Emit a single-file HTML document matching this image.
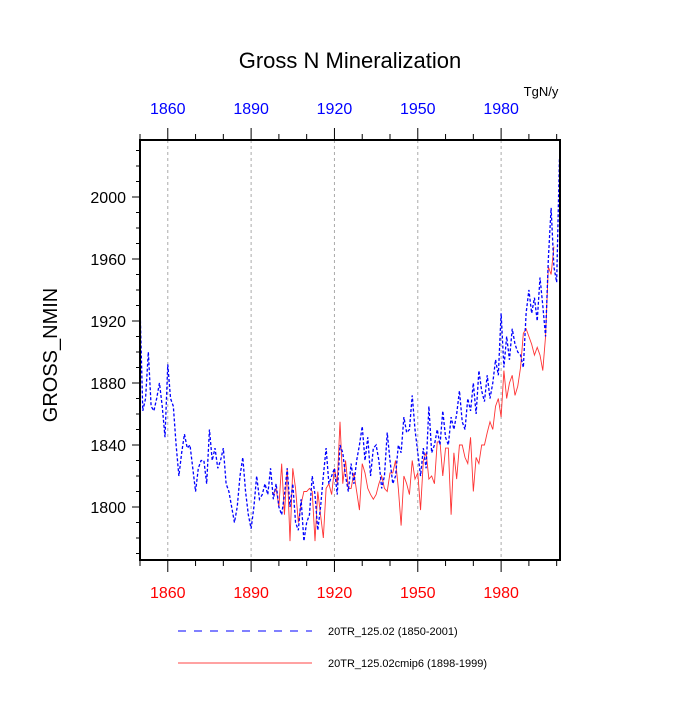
<!DOCTYPE html>
<html><head><meta charset="utf-8"><style>
body{margin:0;background:#fff;}
svg text{font-family:"Liberation Sans",sans-serif;}
</style></head><body>
<svg id="c" width="700" height="700" xmlns="http://www.w3.org/2000/svg">
<text x="350" y="68" font-size="22" text-anchor="middle">Gross N Mineralization</text>
<text x="541" y="96" font-size="13" text-anchor="middle">TgN/y</text>
<text transform="translate(57,355) rotate(-90)" font-size="20" text-anchor="middle">GROSS_NMIN</text>
<g id="grid"></g><g id="axes"></g><g id="series"></g>
<rect x="140" y="140" width="420" height="420" fill="none" stroke="#000" stroke-width="2"/>
<g>
<line x1="178" y1="631" x2="312" y2="631" stroke="#00f" stroke-dasharray="8,8"/>
<text x="328" y="635" font-size="11">20TR_125.02 (1850-2001)</text>
<line x1="178" y1="663" x2="312" y2="663" stroke="#f44"/>
<text x="328" y="667" font-size="11">20TR_125.02cmip6 (1898-1999)</text>
</g>
</svg>
<script>
const blueStart = 1850;
const blueValues = [1930,1862,1870,1900,1865,1862,1870,1880,1865,1845,1892,1870,1865,1840,1820,1835,1847,1838,1840,1825,1810,1825,1830,1830,1815,1850,1830,1838,1825,1830,1838,1815,1810,1800,1790,1800,1820,1832,1810,1795,1786,1800,1820,1805,1808,1815,1808,1825,1805,1815,1800,1795,1808,1825,1800,1815,1790,1785,1805,1778,1790,1795,1820,1808,1785,1800,1820,1838,1815,1820,1825,1808,1840,1835,1820,1810,1828,1815,1830,1840,1852,1830,1845,1820,1838,1840,1830,1812,1820,1848,1830,1815,1820,1840,1835,1858,1848,1850,1872,1850,1835,1820,1838,1825,1865,1835,1840,1850,1840,1862,1845,1840,1858,1850,1860,1875,1855,1850,1870,1862,1880,1860,1888,1875,1868,1885,1870,1880,1895,1885,1925,1890,1910,1895,1915,1905,1900,1898,1890,1925,1940,1925,1935,1920,1948,1930,1910,1960,1993,1955,1945,2025];
const redStart = 1898;
const redValues = [1808,1812,1800,1828,1795,1825,1778,1825,1812,1790,1802,1810,1810,1812,1810,1778,1810,1795,1780,1812,1815,1808,1825,1815,1855,1815,1830,1812,1812,1822,1810,1798,1828,1822,1812,1808,1805,1808,1815,1820,1812,1810,1822,1822,1830,1812,1788,1820,1815,1808,1830,1818,1822,1798,1830,1835,1818,1820,1815,1842,1842,1820,1838,1838,1795,1835,1818,1840,1840,1832,1828,1845,1810,1832,1828,1840,1840,1848,1855,1850,1865,1870,1858,1888,1870,1880,1885,1872,1878,1890,1912,1915,1910,1905,1898,1903,1898,1888,1910,1955,1950,1968];
const xTicks = [1860,1890,1920,1950,1980];
const yTicks = [1800,1840,1880,1920,1960,2000];
const NS="http://www.w3.org/2000/svg";
const X0=140,X1=560,XMIN=1850,XMAX=2001.2;
const x=v=>X0+(v-XMIN)/(XMAX-XMIN)*(X1-X0);
const y=v=>507-(v-1800)*1.55;
const grid=document.getElementById('grid'),axes=document.getElementById('axes'),ser=document.getElementById('series');
function mk(tag,attrs,parent){const e=document.createElementNS(NS,tag);for(const k in attrs)e.setAttribute(k,attrs[k]);parent.appendChild(e);return e;}
for(let v=1850;v<=2000;v+=10){const big=xTicks.includes(v);
  mk('line',{x1:x(v),x2:x(v),y1:560,y2:big?572:566,stroke:'#000'},axes);
  mk('line',{x1:x(v),x2:x(v),y1:big?128:134,y2:140,stroke:'#000'},axes);}
xTicks.forEach(t=>{
  const g=mk('line',{x1:x(t),x2:x(t),y1:140,y2:560,stroke:'#aaa','stroke-dasharray':'3,3'},grid);
  
  
  const tb=mk('text',{x:x(t),y:598,'font-size':16,fill:'#f00','text-anchor':'middle'},axes);tb.textContent=t;
  
  
  const tt=mk('text',{x:x(t),y:114,'font-size':16,fill:'#00f','text-anchor':'middle'},axes);tt.textContent=t;
  
  
});
for(let v=1770;v<=2030;v+=10){const big=(v-1800)%40===0;
  mk('line',{x1:big?132:136,x2:140,y1:y(v),y2:y(v),stroke:'#000'},axes);}
yTicks.forEach(t=>{const l=mk('text',{x:126,y:y(t)+6,'font-size':16,'text-anchor':'end'},axes);l.textContent=t;
  
  });
const rp=mk('polyline',{points:redValues.map((v,i)=>x(redStart+i)+','+y(v)).join(' '),fill:'none',stroke:'#f33','stroke-width':0.9},ser);


const bp=mk('polyline',{points:blueValues.map((v,i)=>x(blueStart+i)+','+y(v)).join(' '),fill:'none',stroke:'#00f','stroke-width':1.3,'stroke-dasharray':'3,2'},ser);


</script>
</body></html>
